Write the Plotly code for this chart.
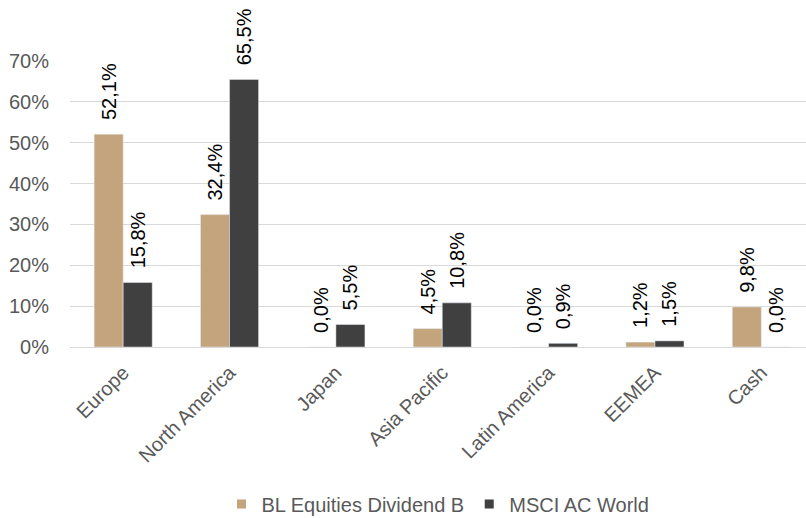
import plotly.graph_objects as go

categories = ["Europe", "North America", "Japan", "Asia Pacific", "Latin America", "EEMEA", "Cash"]
fund = [52.1, 32.4, 0.0, 4.5, 0.0, 1.2, 9.8]
bench = [15.8, 65.5, 5.5, 10.8, 0.9, 1.5, 0.0]
series_names = ["BL Equities Dividend B", "MSCI AC World"]
yticks = [0, 10, 20, 30, 40, 50, 60, 70]

def fmt(v):
    return "\u00a0\u00a0" + f"{v:.1f}".replace(".", ",") + "%"

FONT = "Liberation Sans, Arial, sans-serif"
FS = 20
colors = ["#C4A47C", "#404040"]
fig = go.Figure()
for name, vals, col in [(series_names[0], fund, colors[0]), (series_names[1], bench, colors[1])]:
    fig.add_trace(go.Bar(
        x=categories, y=vals, name=name, marker_color=col, showlegend=False,
        text=[fmt(v) for v in vals], textposition="outside", textangle=-90,
        textfont=dict(family=FONT, size=FS, color="#000000"),
        constraintext="none", cliponaxis=False,
    ))
for name, col in zip(series_names, colors):
    fig.add_trace(go.Scatter(x=[None], y=[None], mode="markers", name=name,
                             marker=dict(symbol="square", size=9, color=col)))

fig.update_layout(
    width=806, height=518,
    margin=dict(l=70, r=0, t=61, b=171, autoexpand=False),
    paper_bgcolor="white", plot_bgcolor="white",
    barmode="group", bargap=0.454, bargroupgap=0,
    font=dict(family=FONT, size=FS, color="#595959"),
    showlegend=True,
    legend=dict(orientation="h", x=0.5, xanchor="center", y=-0.549, yanchor="middle",
                font=dict(size=FS, color="#595959"), itemwidth=30,
                traceorder="normal"),
)
fig.update_yaxes(range=[0, 70], tickvals=yticks, ticktext=[f"{t}%" for t in yticks],
                 showgrid=True, gridcolor="#D9D9D9", gridwidth=1.3, zeroline=True,
                 zerolinecolor="#D9D9D9", zerolinewidth=1.3, showline=False,
                 ticklabelstandoff=20, tickfont=dict(size=FS, color="#595959"),
                 automargin=False)
fig.update_xaxes(range=[-0.5, 6.42], tickangle=-45, showline=False,
                 tickfont=dict(size=FS, color="#595959"),
                 ticks="", ticklabelstandoff=9, automargin=False)

fig.write_html("out.html")
